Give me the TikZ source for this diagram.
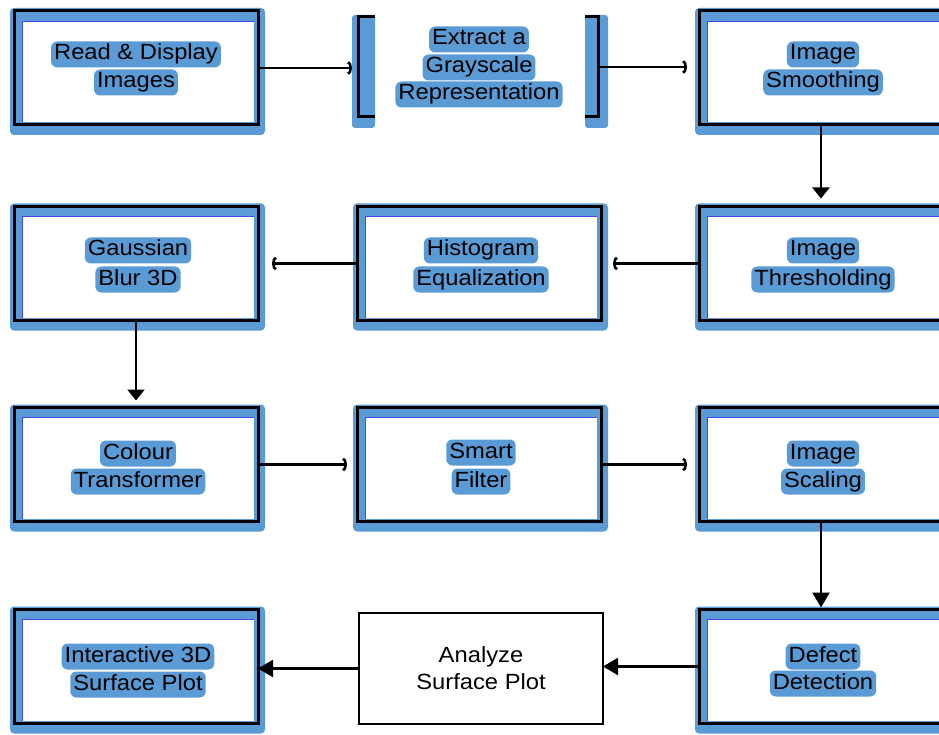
\documentclass[tikz,border=0pt]{standalone}
\usepackage{fontspec}
\setmainfont{Liberation Sans}[FakeStretch=1.08]
\usetikzlibrary{arrows.meta,calc}

\definecolor{frameblue}{RGB}{91,155,213}
\definecolor{edgeblue}{RGB}{70,70,240}

\tikzset{
  blackframe/.style={draw=black, line width=3pt, minimum width=244pt,
    minimum height=114pt, inner sep=0pt, outer sep=0pt},
  plainbox/.style={draw=black, line width=1.5pt, minimum width=244pt,
    minimum height=111pt, inner sep=0pt, outer sep=0pt, align=center,
    font=\fontsize{22}{27}\selectfont},
  glow/.style={fill=frameblue, rounded corners=6pt, inner xsep=3pt,
    inner ysep=2.5pt, text height=16pt, text depth=5pt, anchor=base,
    font=\fontsize{22}{27}\selectfont},
  flow/.style={line width=2.2pt},
  barb/.style={flow, -{Arc Barb[length=4pt, width=14pt, line width=2.6pt]}},
  headarrow/.style={flow, -{Triangle[length=11pt, width=17pt]}},
  bigarrow/.style={flow, -{Triangle[length=15pt, width=17pt]}},
}

% blue shadowed frame with a black outline; #1 name, #2/#3 centre
\newcommand\framedblock[3]{%
  \fill[frameblue, rounded corners=4pt] (#2-126,#3-60) rectangle (#2+129,#3+67);
  \fill[white] (#2-114,#3-47) rectangle (#2+118,#3+54);
  \draw[edgeblue, line width=0.8pt] (#2-114,#3+54) -- (#2-114,#3-47) -- (#2+118,#3-47);
  \node[blackframe] (#1) at (#2,#3) {};
}

\begin{document}
\begin{tikzpicture}[x=1pt, y=-1pt]
  \useasboundingbox (0,0) rectangle (939,735);
  \clip (0,0) rectangle (939,735);
  \fill[white] (0,0) rectangle (939,735);

  % ---- row 1 ----
  \framedblock{b1}{136}{68}
  \node[glow] (t1a) at (136,60) {Read \& Display};
  \node[glow] (t1b) at (136,88) {Images};

  % bracketed block
  \fill[frameblue, rounded corners=3pt] (352,15) rectangle (375,128);
  \fill[frameblue, rounded corners=3pt] (585,15) rectangle (608,128);
  \draw[line width=3pt] (375,17) -- (358,17) -- (358,117) -- (375,117);
  \draw[line width=3pt] (585,17) -- (598,17) -- (598,117) -- (585,117);
  \node[minimum width=246pt, minimum height=100pt, inner sep=0pt, outer sep=0pt]
    (b2) at (475,67) {};
  \node[glow] (t2a) at (479,45) {Extract a};
  \node[glow] (t2b) at (479,73) {Grayscale};
  \node[glow] (t2c) at (479,100) {Representation};

  \framedblock{b3}{821}{68}
  \node[glow] (t3a) at (823,60) {Image};
  \node[glow] (t3b) at (823,88) {Smoothing};

  % ---- row 2 ----
  \framedblock{b4}{821}{263.5}
  \node[glow] (t4a) at (823,256) {Image};
  \node[glow] (t4b) at (823,285) {Thresholding};

  \framedblock{b5}{479}{263.5}
  \node[glow] (t5a) at (481,256) {Histogram};
  \node[glow] (t5b) at (481,285) {Equalization};

  \framedblock{b6}{136}{263.5}
  \node[glow] (t6a) at (138,256) {Gaussian};
  \node[glow] (t6b) at (138,285) {Blur 3D};

  % ---- row 3 ----
  \framedblock{b7}{136}{464.5}
  \node[glow] (t7a) at (138,459) {Colour};
  \node[glow] (t7b) at (138,487) {Transformer};

  \framedblock{b8}{479}{464.5}
  \node[glow] (t8a) at (481,458) {Smart};
  \node[glow] (t8b) at (481,487) {Filter};

  \framedblock{b9}{821}{464.5}
  \node[glow] (t9a) at (823,459) {Image};
  \node[glow] (t9b) at (823,487) {Scaling};

  % ---- row 4 ----
  \framedblock{b10}{821}{666.5}
  \node[glow] (t10a) at (823,662) {Defect};
  \node[glow] (t10b) at (823,689) {Detection};

  \node[plainbox] (b11) at (481,668.5) {Analyze\\Surface Plot};

  \framedblock{b12}{136}{666.5}
  \node[glow] (t12a) at (138,662) {Interactive 3D};
  \node[glow] (t12b) at (138,690) {Surface Plot};

  % ---- connectors ----
  \draw[barb] (b1.east) -- (b1.east -| b2.west);
  \draw[barb, shorten >=12pt] (b2.east) -- (b2.east -| b3.west);
  \draw[headarrow, shorten >=8pt] (b3.south) -- (b4.north);
  \draw[barb, shorten >=12pt] (b4.west) -- (b5.east);
  \draw[barb, shorten >=14pt] (b5.west) -- (b6.east);
  \draw[headarrow, shorten >=7pt] (b6.south) -- (b7.north);
  \draw[barb, shorten >=10pt] (b7.east) -- (b8.west);
  \draw[barb, shorten >=12pt] (b8.east) -- (b9.west);
  \draw[bigarrow, shorten >=2pt] (b9.south) -- (b10.north);
  \draw[bigarrow] (b10.west) -- (b10.west -| b11.east);
  \draw[bigarrow] (b11.west) -- (b11.west -| b12.east);
\end{tikzpicture}
\end{document}
